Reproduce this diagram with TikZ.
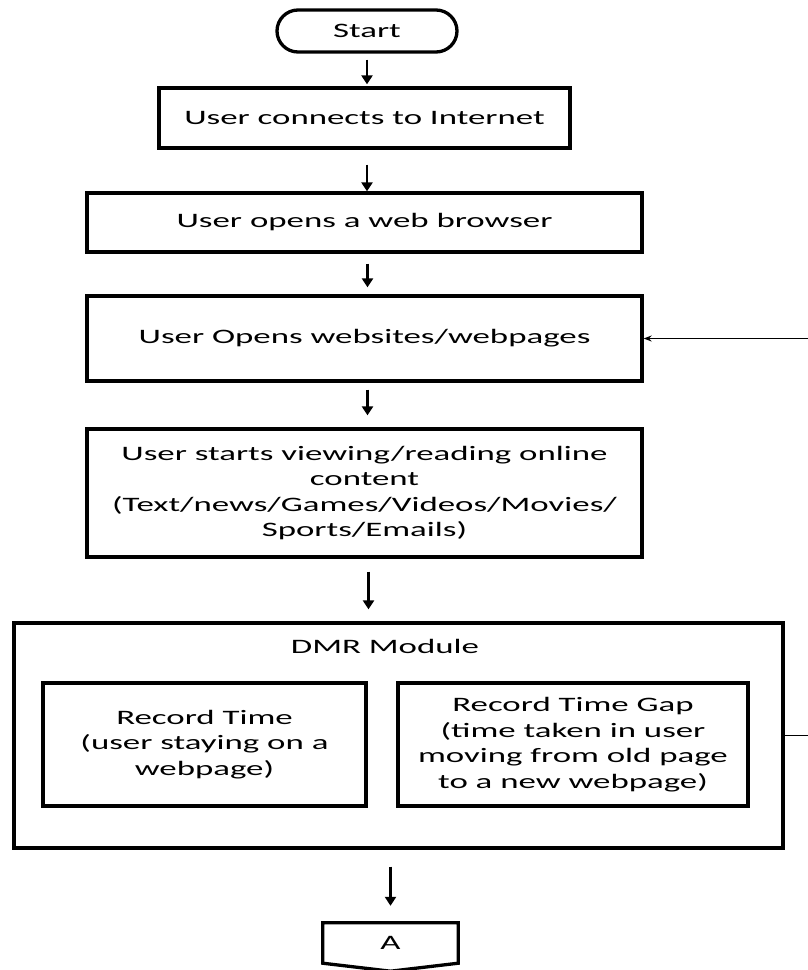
\documentclass[tikz,border=0pt]{standalone}
\usepackage{fontspec}
\setmainfont{Carlito}[FakeStretch=1.7]
\usetikzlibrary{arrows.meta,calc}
\begin{document}
\begin{tikzpicture}[x=1pt,y=-1pt,
  txt/.style={font=\fontsize{20.5pt}{25.5pt}\selectfont, align=center, inner sep=0pt},
  box/.style={txt, draw, line width=3.3pt},
  arr/.style={line width=2.3pt, -{Triangle[length=9pt,width=11pt]}},
  fb/.style={line width=1.7pt, -{Stealth[length=8pt,width=6pt]}}
]
\useasboundingbox (0,0) rectangle (807,970);
\node[box, rounded corners=21pt, minimum width=180pt, minimum height=42pt] (start) at (367,31) {Start};
\node[box, minimum width=411pt, minimum height=60pt] (b1) at (364.5,118) {User connects to Internet};
\node[box, minimum width=555pt, minimum height=59pt] (b2) at (364.5,222.5) {User opens a web browser};
\node[box, minimum width=555pt, minimum height=85pt] (b3) at (364.5,338.5) {User Opens websites/webpages};
\node[box, minimum width=555pt, minimum height=128pt] (b4) at (364.5,493) {User starts viewing/reading online\\content\\(Text/news/Games/Videos/Movies/\\Sports/Emails)};
\node[box, minimum width=769pt, minimum height=225pt] (dmr) at (398.5,735.5) {};
\node[txt] (dmrt) at (385,646) {DMR Module};
\node[box, minimum width=323pt, minimum height=123pt] (rt) at (204.5,744.5) {Record Time\\(user staying on a\\webpage)};
\node[box, minimum width=350pt, minimum height=123pt] (rg) at (573,744.5) {Record Time Gap\\(time taken in user\\moving from old page\\to a new webpage)};
\node[txt, minimum width=135pt, minimum height=40pt] (A) at (390.5,943) {A};
\draw[line width=3.3pt, line join=miter] (A.north west) -- (A.south west) -- ($(A.south)+(0,8)$) -- (A.south east) -- (A.north east) -- cycle;
% connectors
\draw[arr] ([yshift=-6pt]start.south) -- ([yshift=2pt]start.south |- b1.north);
\draw[arr] ([xshift=2.5pt,yshift=-15pt]b1.south) -- ([xshift=2.5pt]b2.north);
\draw[arr] ([xshift=3pt,yshift=-10pt]b2.south) -- ([xshift=3pt,yshift=7pt]b3.north);
\draw[arr] ([xshift=3pt,yshift=-7pt]b3.south) -- ([xshift=3pt,yshift=12pt]b4.north);
\draw[arr] ([xshift=4pt,yshift=-13pt]b4.south) -- ([xshift=4pt,yshift=12pt]b4.south |- dmr.north);
\draw[arr] ([yshift=-17pt]A.north |- dmr.south) -- ([yshift=17pt]A.north);
\draw[fb] (dmr.east) -- ++(32,0) |- (b3.east);
\end{tikzpicture}
\end{document}
